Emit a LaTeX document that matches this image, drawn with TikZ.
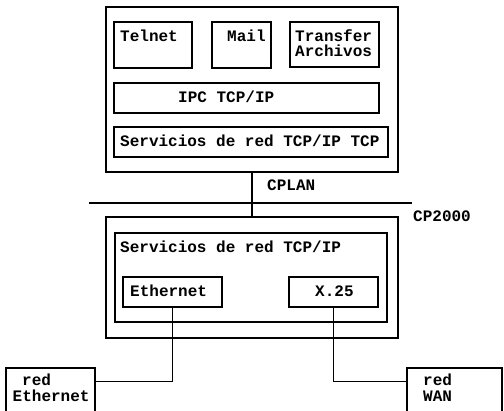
\documentclass[tikz,border=0pt]{standalone}
\usepackage{fontspec}
\setmonofont{Liberation Mono}
\begin{document}
\begin{tikzpicture}[x=1pt,y=-1pt,
  box/.style={draw=black,line width=1.2pt,rectangle,inner sep=0pt},
  lbl/.style={font=\ttfamily\bfseries\fontsize{16}{16}\selectfont,inner sep=0pt,anchor=base west},
  conn/.style={draw=black,line width=1.2pt}]
\useasboundingbox (0,0) rectangle (504,411);
\clip (0,0) rectangle (504,411);
% top station
\node[box,minimum width=292pt,minimum height=165pt] (top) at (252,89.5) {};
\node[box,minimum width=78pt,minimum height=46pt] (telnet) at (153,45) {};
\node[box,minimum width=59pt,minimum height=46pt] (mail) at (241.5,45) {};
\node[box,minimum width=89pt,minimum height=45pt] (transf) at (334.5,44.5) {};
\node[box,minimum width=265pt,minimum height=30pt] (ipc) at (246.5,98) {};
\node[box,minimum width=274pt,minimum height=30pt] (serv) at (251,142) {};
\node[lbl] (tTelnet) at (120,42) {Telnet};
\node[lbl] (tMail) at (227,42) {Mail};
\node[lbl] (tTransf) at (295,42) {Transfer};
\node[lbl] (tArch) at (295,56.5) {Archivos};
\node[lbl] (tIpc) at (178,102.5) {IPC TCP/IP};
\node[lbl] (tServ) at (120,146.5) {Servicios de red TCP/IP TCP};
% LAN
\coordinate (lanL) at (89,203);
\coordinate (lanR) at (412,203);
\draw[conn] (lanL) -- (lanR);
\node[lbl] (tLan) at (267,190.5) {CPLAN};
\node[lbl] (tCp) at (413,221.5) {CP2000};
% bottom station
\node[box,minimum width=292pt,minimum height=121pt] (bot) at (252,277.5) {};
\node[box,minimum width=272pt,minimum height=89pt] (inner) at (251,277.5) {};
\node[lbl] (tServ2) at (120,252.5) {Servicios de red TCP/IP};
\node[box,minimum width=99pt,minimum height=30pt] (eth) at (172.5,292) {};
\node[box,minimum width=89pt,minimum height=30pt] (x25) at (333.5,292) {};
\node[lbl] (tEth) at (130,296.5) {Ethernet};
\node[lbl] (tX) at (315,296.5) {X.25};
\draw[conn] (top.south) -- (bot.north);
% networks
\node[box,minimum width=89pt,minimum height=62pt] (redEth) at (50.5,399) {};
\node[box,minimum width=95pt,minimum height=62pt] (wan) at (454.5,399) {};
\node[lbl] (tRed1) at (22,386) {red};
\node[lbl] (tRed1b) at (12.5,401.5) {Ethernet};
\node[lbl] (tRed2) at (423,386) {red};
\node[lbl] (tRed2b) at (423,401.5) {WAN};
\draw[conn] (eth.south) |- ([yshift=-14pt]redEth.north east);
\draw[conn] (x25.south) |- ([yshift=-14pt]wan.north west);
\end{tikzpicture}
\end{document}
